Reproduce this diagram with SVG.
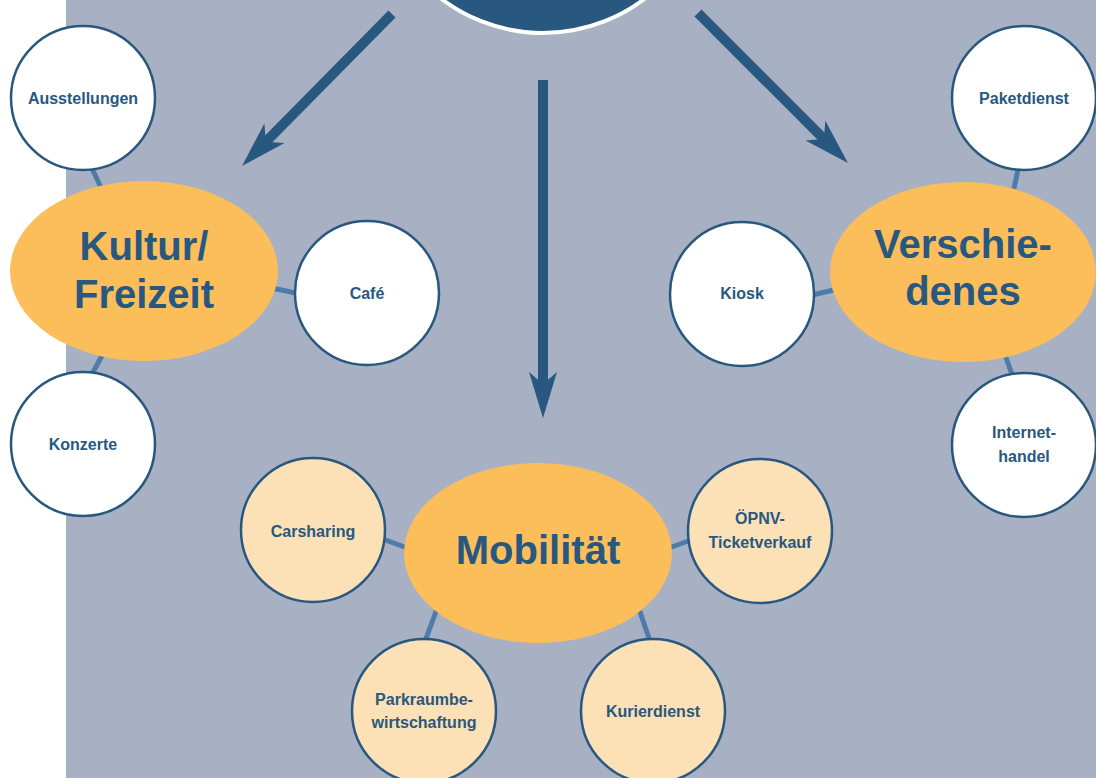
<svg xmlns="http://www.w3.org/2000/svg" width="1096" height="778" viewBox="0 0 1096 778">
<style>
.bg{fill:#a8b0c3}
.hub{fill:#fbbe5a}
.sat{fill:#ffffff;stroke:#285880;stroke-width:2.5}
.satm{fill:#fce0b6;stroke:#285880;stroke-width:2.5}
.big{font-family:"Liberation Sans",Arial,sans-serif;font-weight:bold;font-size:40px;fill:#285880;text-anchor:middle}
.lbl{font-family:"Liberation Sans",Arial,sans-serif;font-weight:bold;font-size:16px;fill:#285880;text-anchor:middle}
.con{stroke:#4d7cab;stroke-width:5;fill:none}
.arr{stroke:#285880;stroke-width:10;fill:none;marker-end:url(#ah)}
</style>
<defs>
<marker id="ah" markerUnits="userSpaceOnUse" markerWidth="50" markerHeight="30" viewBox="0 0 50 30" refX="12" refY="14" orient="auto">
<path d="M0,0 L46,14 L0,28 L12,14 Z" fill="#285880"/>
</marker>
</defs>
<rect x="0" y="0" width="1096" height="778" fill="#ffffff"/>
<rect class="bg" x="66" y="0" width="1030" height="778"/>
<g id="top">
<circle cx="543" cy="-135" r="168" fill="#285880" stroke="#ffffff" stroke-width="4"/>
</g>
<g id="arrows">
<line class="arr" x1="392" y1="14" x2="265.9" y2="141.8"/>
<line class="arr" x1="543" y1="80" x2="543" y2="384"/>
<line class="arr" x1="698" y1="13" x2="823.9" y2="139"/>
</g>
<g id="connectors">
<line class="con" x1="90" y1="164" x2="103" y2="192"/>
<line class="con" x1="91" y1="376" x2="104" y2="352"/>
<line class="con" x1="272" y1="288" x2="300" y2="294"/>
<line class="con" x1="1019" y1="165" x2="1013" y2="193"/>
<line class="con" x1="808" y1="296" x2="838" y2="289"/>
<line class="con" x1="1004" y1="352" x2="1014" y2="380"/>
<line class="con" x1="380" y1="538" x2="410" y2="549"/>
<line class="con" x1="666" y1="549" x2="694" y2="539"/>
<line class="con" x1="438" y1="606" x2="424" y2="644"/>
<line class="con" x1="638" y1="606" x2="651" y2="644"/>
</g>
<g id="kultur">
<ellipse class="hub" cx="144" cy="271" rx="134" ry="90"/>
<text class="big" x="144" y="260">Kultur/</text>
<text class="big" x="144" y="308">Freizeit</text>
</g>
<g id="ausstellungen">
<circle class="sat" cx="83" cy="98" r="72"/>
<text class="lbl" x="83" y="104">Ausstellungen</text>
</g>
<g id="konzerte">
<circle class="sat" cx="83" cy="444" r="72"/>
<text class="lbl" x="83" y="450">Konzerte</text>
</g>
<g id="cafe">
<circle class="sat" cx="367" cy="293" r="72"/>
<text class="lbl" x="367" y="299">Café</text>
</g>
<g id="verschiedenes">
<ellipse class="hub" cx="963" cy="272" rx="133" ry="90"/>
<text class="big" x="963" y="258">Verschie-</text>
<text class="big" x="963" y="305">denes</text>
</g>
<g id="paketdienst">
<circle class="sat" cx="1024" cy="98" r="72"/>
<text class="lbl" x="1024" y="104">Paketdienst</text>
</g>
<g id="kiosk">
<circle class="sat" cx="742" cy="294" r="72"/>
<text class="lbl" x="742" y="299">Kiosk</text>
</g>
<g id="internethandel">
<circle class="sat" cx="1024" cy="445" r="72"/>
<text class="lbl" x="1024" y="438">Internet-</text>
<text class="lbl" x="1024" y="462">handel</text>
</g>
<g id="mobilitaet">
<ellipse class="hub" cx="538" cy="553" rx="134" ry="90"/>
<text class="big" x="538" y="564">Mobilität</text>
</g>
<g id="carsharing">
<circle class="satm" cx="313" cy="530" r="72"/>
<text class="lbl" x="313" y="537">Carsharing</text>
</g>
<g id="oepnv">
<circle class="satm" cx="760" cy="531" r="72"/>
<text class="lbl" x="760" y="524">ÖPNV-</text>
<text class="lbl" x="760" y="548">Ticketverkauf</text>
</g>
<g id="parkraum">
<circle class="satm" cx="424" cy="711" r="72"/>
<text class="lbl" x="424" y="705">Parkraumbe-</text>
<text class="lbl" x="424" y="728">wirtschaftung</text>
</g>
<g id="kurierdienst">
<circle class="satm" cx="653" cy="711" r="72"/>
<text class="lbl" x="653" y="717">Kurierdienst</text>
</g>
</svg>
